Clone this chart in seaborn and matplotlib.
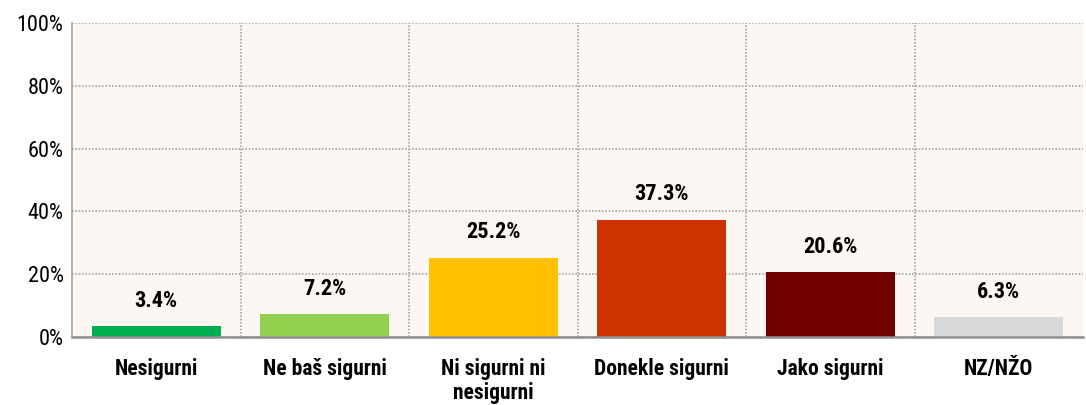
import matplotlib
matplotlib.use('Agg')
import matplotlib.pyplot as plt
import seaborn as sns
import pandas as pd
import numpy as np
from matplotlib.ticker import FixedLocator, PercentFormatter

categories = ["Nesigurni", "Ne baš sigurni", "Ni sigurni ni\nnesigurni",
              "Donekle sigurni", "Jako sigurni", "NZ/NŽO"]
values = [3.4, 7.2, 25.2, 37.3, 20.6, 6.3]
colors = ["#00B050", "#92D050", "#FFC000", "#CC3300", "#700000", "#D9D9D9"]
yticks = [0, 20, 40, 60, 80, 100]

sns.set_style("white")
plt.rcParams['font.family'] = ['Roboto Condensed', 'Liberation Sans', 'DejaVu Sans']
plt.rcParams['text.color'] = 'black'

df = pd.DataFrame({"cat": categories, "val": values})

fig = plt.figure(figsize=(10.86, 4.05), dpi=100)
ax = fig.add_axes([72 / 1086, 1 - 337 / 405, (1083 - 72) / 1086, (337 - 23) / 405])
ax.set_facecolor("#FCF7F3")

sns.barplot(data=df, x="cat", y="val", hue="cat", palette=colors, legend=False,
            width=0.765, saturation=1, linewidth=0, ax=ax, zorder=3)

ax.set_xlim(-0.5, len(categories) - 0.5)
ax.set_ylim(0, 100)
ax.set_yticks(yticks)
ax.yaxis.set_major_formatter(PercentFormatter(decimals=0))
ax.xaxis.set_minor_locator(FixedLocator(np.arange(0.5, len(categories) - 0.5, 1)))

# dotted grid
ax.grid(axis="y", which="major", color="#A6A6A6", linestyle=(0, (1, 1)), linewidth=1.2, zorder=1)
ax.grid(axis="x", which="minor", color="#A6A6A6", linestyle=(0, (1, 1)), linewidth=1.2, zorder=1)
ax.set_axisbelow(True)

for s in ["top", "right"]:
    ax.spines[s].set_visible(False)
ax.spines["left"].set_color("#A6A6A6")
ax.spines["left"].set_linestyle((0, (1, 1)))
ax.spines["left"].set_linewidth(1.2)
ax.spines["bottom"].set_color("#909090")
ax.spines["bottom"].set_linewidth(1.8)
ax.spines["bottom"].set_zorder(4)

ax.tick_params(axis="x", which="major", length=0, pad=15, labelsize=15.5, labelcolor="black")
ax.tick_params(axis="x", which="minor", length=7, width=1.3, color="#909090", direction="out")
ax.tick_params(axis="y", length=4, width=1.2, color="#A6A6A6", labelsize=16, labelcolor="black", pad=2)
for lbl in ax.get_xticklabels():
    lbl.set_fontweight("bold")
    lbl.set_linespacing(1.1)
    lbl.set_verticalalignment("top")

ax.set_xlabel("")
ax.set_ylabel("")

for i, v in enumerate(values):
    ax.text(i, v + 4.6, f"{v:.1f}%", ha="center", va="bottom",
            fontsize=16, fontweight="bold", color="black")

fig.savefig("out.png", dpi=100)
